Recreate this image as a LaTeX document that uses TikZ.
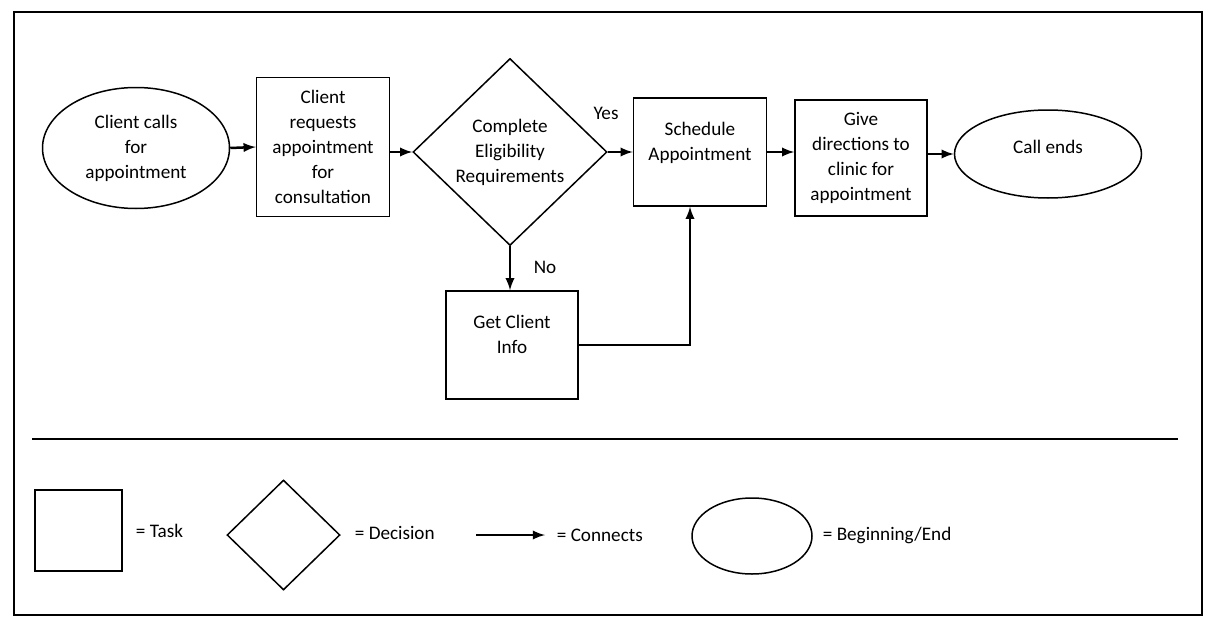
\documentclass[tikz,border=0pt]{standalone}
\usepackage{fontspec}
\setmainfont{Carlito}
\usetikzlibrary{shapes.geometric}

\begin{document}
\begin{tikzpicture}[x=0.6pt,y=-0.6pt,
  font=\fontsize{11.5}{15}\selectfont,
  task/.style={rectangle,draw,line width=0.9pt,align=center,inner sep=0pt},
  decision/.style={diamond,draw,line width=0.9pt,align=center,inner sep=0pt},
  term/.style={ellipse,draw,line width=0.9pt,align=center,inner sep=0pt},
  conn/.style={->,>=latex,line width=1.5pt}]
\useasboundingbox (0,0) rectangle (1216,626);
\draw[line width=1.2pt] (14,12) rectangle (1202,615);

% flow
\node[term,minimum width=112.2pt,minimum height=72.6pt] (calls) at (136,148) {Client calls\\for\\appointment};
\node[task,minimum width=79.8pt,minimum height=83.4pt] (request) at (323,147) {Client\\requests\\appointment\\for\\consultation};
\node[decision,minimum width=116.4pt,minimum height=112.2pt] (elig) at (510,152) {Complete\\Eligibility\\Requirements};
\node[task,minimum width=79.8pt,minimum height=64.8pt,text depth=13pt] (sched) at (700,152) {Schedule\\Appointment};
\node[task,minimum width=79.2pt,minimum height=69.6pt] (direct) at (861,158) {Give\\directions to\\clinic for\\appointment};
\node[term,minimum width=112.2pt,minimum height=52.8pt,text depth=8pt] (ends) at (1048,154) {Call ends};
\node[task,minimum width=79.2pt,minimum height=64.8pt,text depth=13pt] (info) at (512,345) {Get Client\\Info};
\node (yes) at (606,113) {Yes};
\node (no) at (545,267) {No};

\draw[conn] (calls.east) -- (request.west);
\draw[conn] (elig.west -| request.east) -- (elig.west);
\draw[conn] (elig.east) -- (sched.west);
\draw[conn] (sched.east) -- (sched.east -| direct.west);
\draw[conn] (direct.east |- ends.west) -- (ends.west);
\draw[conn] (elig.south) -- (elig.south |- info.north);
\draw[conn] (info.east) -| ([xshift=-6pt]sched.south);

% legend
\draw[line width=1.5pt] (32,439) -- (1178,439);
\node[task,minimum width=52.2pt,minimum height=48.6pt] (ltask) at (78.5,530.5) {};
\node[anchor=west] (ttask) at (130,531) {= Task};
\node[decision,minimum width=67.8pt,minimum height=66pt] (ldec) at (283.5,535) {};
\node[anchor=west] (tdec) at (349,533) {= Decision};
\coordinate (la) at (476,535);
\coordinate (lb) at (545,535);
\draw[conn] (la) -- (lb);
\node[anchor=west] (tconn) at (551,535) {= Connects};
\node[term,minimum width=72pt,minimum height=45.6pt] (lterm) at (752,536) {};
\node[anchor=west] (tterm) at (817,535) {= Beginning/End};
\end{tikzpicture}
\end{document}
